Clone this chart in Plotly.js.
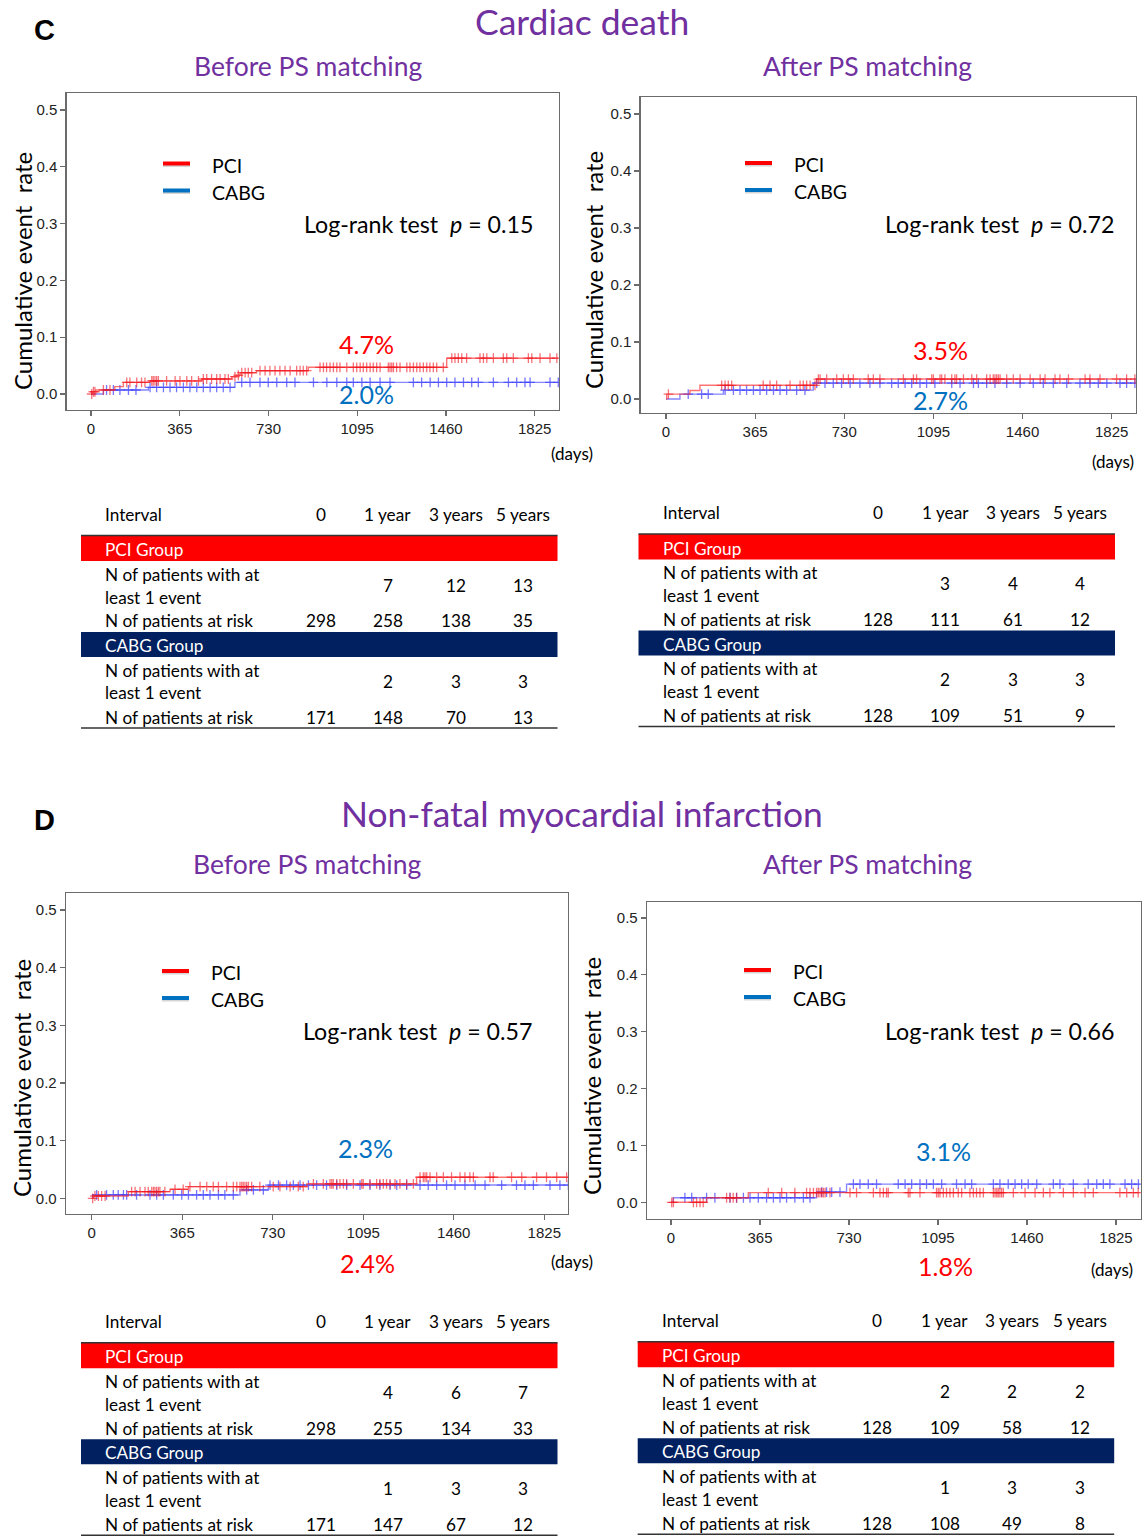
<!DOCTYPE html>
<html><head><meta charset="utf-8">
<script src="https://cdn.plot.ly/plotly-3.0.1.min.js"></script>
<style>html,body{margin:0;padding:0;background:#fff}#chart{width:1142px;height:1537px}</style>
</head><body><div id="chart"></div>
<script>
// ================= DATA =================
const xTickVals = [0, 365, 730, 1095, 1460, 1825];
const xTickText = ['0', '365', '730', '1095', '1460', '1825'];
const yTickVals = [0, 0.1, 0.2, 0.3, 0.4, 0.5];
const yTickText = ['0.0', '0.1', '0.2', '0.3', '0.4', '0.5'];
const groups = ['PCI', 'CABG'];
const tableCols = ['0', '1 year', '3 years', '5 years'];
const rowEvents = ['N of patients with at', 'least 1 event'];
const rowRisk = 'N of patients at risk';
const sectionTitles = ['Cardiac death', 'Non-fatal myocardial infarction'];
const sectionLetters = ['C', 'D'];
const subTitles = ['Before PS matching', 'After PS matching'];
const yTitle = 'Cumulative event\u00a0\u00a0rate';

// --- C, before PS matching ---
const cBeforePciEventDays = [5, 20, 98, 133, 243, 455, 579, 599, 613, 681, 894, 1463];
const cBeforePciRates = [0.004, 0.007, 0.013, 0.0205, 0.023, 0.0264, 0.0305, 0.033, 0.0375, 0.041, 0.047, 0.063];
const cBeforePciCensor = [3,10,16,51,78,147,160,188,208,222,250,256,263,270,277,311,346,366,394,414,442,462,476,496,517,531,551,565,592,606,620,634,647,661,695,716,736,757,777,798,819,846,860,873,887,942,956,969,983,997,1011,1024,1052,1079,1093,1107,1120,1134,1148,1161,1175,1189,1223,1230,1237,1244,1257,1271,1299,1312,1326,1340,1353,1367,1381,1394,1408,1422,1449,1484,1497,1511,1525,1545,1600,1614,1628,1655,1696,1710,1737,1799,1813,1847,1888,1916];
const cBeforeCabgEventDays = [51, 236, 592];
const cBeforeCabgRates = [0.007, 0.0117, 0.0205];
const cBeforeCabgCensor = [64,92,119,154,185,243,270,298,325,352,380,407,435,462,490,517,544,572,620,654,695,729,764,805,839,915,970,1011,1052,1079,1114,1148,1189,1230,1326,1360,1395,1429,1463,1497,1532,1566,1593,1655,1717,1751,1785,1806,1888,1922];

// --- C, after PS matching ---
const cAfterPciEventDays = [3, 98, 139, 617];
const cAfterPciRates = [0.0085, 0.015, 0.024, 0.035];
const cAfterPciCensor = [10,228,242,255,269,398,426,453,508,549,562,576,590,610,624,631,658,699,726,747,767,828,849,876,972,1013,1026,1088,1095,1122,1129,1142,1170,1183,1190,1218,1252,1272,1313,1327,1340,1347,1354,1361,1368,1395,1422,1450,1491,1532,1552,1593,1613,1648,1716,1736,1777,1845,1886,1920];
const cAfterCabgEventDays = [57, 235, 603];
const cAfterCabgRates = [0.0085, 0.0155, 0.028];
const cAfterCabgCensor = [91,146,173,242,276,303,330,358,385,412,440,467,494,535,569,617,651,685,719,754,794,835,876,924,951,979,1006,1040,1067,1101,1170,1204,1259,1279,1313,1347,1395,1450,1504,1545,1586,1641,1695,1736,1770,1805,1859,1886,1920];

// --- D, before PS matching ---
const dBeforePciEventDays = [6, 148, 316, 390, 867, 1310];
const dBeforePciRates = [0.004, 0.0116, 0.0156, 0.0203, 0.025, 0.0365];
const dBeforePciCensor = [4,13,27,40,54,161,175,195,215,228,242,249,255,262,269,275,295,336,369,396,437,464,490,511,544,571,585,598,605,611,618,625,632,645,678,732,759,800,833,853,894,934,961,968,974,988,1001,1015,1028,1055,1089,1095,1122,1149,1162,1176,1189,1203,1223,1243,1270,1297,1324,1337,1344,1351,1364,1391,1418,1451,1485,1505,1525,1539,1606,1619,1693,1734,1794,1834,1875,1915];
const dBeforeCabgEventDays = [5, 598, 712];
const dBeforeCabgRates = [0.0058, 0.0145, 0.023];
const dBeforeCabgCensor = [20,60,87,107,128,141,181,235,262,289,329,363,390,423,450,477,511,537,571,625,652,692,719,753,786,813,840,874,907,947,988,1028,1082,1122,1162,1203,1230,1270,1324,1357,1391,1431,1465,1505,1546,1586,1653,1713,1747,1781,1848,1888,1922];

// --- D, after PS matching ---
const dAfterPciEventDays = [146, 317];
const dAfterPciRates = [0.008, 0.017];
const dAfterPciCensor = [3,10,92,105,119,132,228,242,255,269,399,454,508,556,570,584,597,604,611,618,625,632,652,734,761,830,857,871,884,891,973,980,1021,1089,1096,1103,1117,1130,1144,1158,1178,1192,1226,1240,1253,1267,1281,1322,1329,1336,1342,1349,1356,1363,1404,1452,1493,1527,1554,1609,1650,1698,1732,1841,1869,1896,1916];
const dAfterCabgEventDays = [9, 597, 720];
const dAfterCabgRates = [0.008, 0.018, 0.032];
const dAfterCabgCensor = [57,85,146,180,242,269,297,324,358,392,420,447,474,508,543,570,618,638,659,693,748,775,809,843,932,960,987,1021,1048,1076,1110,1171,1206,1233,1322,1349,1383,1411,1438,1465,1500,1568,1595,1650,1711,1746,1773,1800,1862,1889,1917];

const lastFollowUpDay = 1922;

// log-rank p values and 5-year percentages
const pValues = ['0.15', '0.72', '0.57', '0.66'];
const pciPct = ['4.7%', '3.5%', '2.4%', '1.8%'];
const cabgPct = ['2.0%', '2.7%', '2.3%', '3.1%'];

// risk tables
const cBeforePciEvents = ['', 7, 12, 13];
const cBeforePciRisk = [298, 258, 138, 35];
const cBeforeCabgEvents = ['', 2, 3, 3];
const cBeforeCabgRisk = [171, 148, 70, 13];
const cAfterPciEvents = ['', 3, 4, 4];
const cAfterPciRisk = [128, 111, 61, 12];
const cAfterCabgEvents = ['', 2, 3, 3];
const cAfterCabgRisk = [128, 109, 51, 9];
const dBeforePciEvents = ['', 4, 6, 7];
const dBeforePciRisk = [298, 255, 134, 33];
const dBeforeCabgEvents = ['', 1, 3, 3];
const dBeforeCabgRisk = [171, 147, 67, 12];
const dAfterPciEvents = ['', 2, 2, 2];
const dAfterPciRisk = [128, 109, 58, 12];
const dAfterCabgEvents = ['', 1, 3, 3];
const dAfterCabgRisk = [128, 108, 49, 8];

// ================= LAYOUT / DRAWING =================
const W = 1142, H = 1537;
const px = x => x / W, py = y => 1 - y / H;
const PURPLE = '#7030A0', RED = '#FF0000', BLUE = '#0070C0', NAVY = '#002060';
const TXT = 'Lato, "Open Sans", sans-serif';
const ARIAL = '"Liberation Sans", Arial, sans-serif';
const TAB_FS = 17.2;

const panels = [
  {box: {l: 66.7, t: 93, r: 559, b: 410}, x0: 91, x1: 534.7, y0: 394, y5: 110,
   pci: [cBeforePciEventDays, cBeforePciRates, cBeforePciCensor], cabg: [cBeforeCabgEventDays, cBeforeCabgRates, cBeforeCabgCensor],
   leg: {x: 163, y: 163.5}, lr: {x: 535, y: 224}, pPct: {x: 366, y: 344}, cPct: {x: 366, y: 394},
   days: {x: 572, y: 454}, yt: {x: 22, y: 271}, sub: {x: 308, y: 66},
   table: {L: 81, T: 535.5}, tab: [cBeforePciEvents, cBeforePciRisk, cBeforeCabgEvents, cBeforeCabgRisk]},
  {box: {l: 640.7, t: 97, r: 1136, b: 413}, x0: 666, x1: 1111.7, y0: 399, y5: 114,
   pci: [cAfterPciEventDays, cAfterPciRates, cAfterPciCensor], cabg: [cAfterCabgEventDays, cAfterCabgRates, cAfterCabgCensor],
   leg: {x: 745, y: 163}, lr: {x: 1116, y: 224}, pPct: {x: 940, y: 350}, cPct: {x: 940, y: 400},
   days: {x: 1113, y: 462}, yt: {x: 593, y: 270}, sub: {x: 867, y: 66},
   table: {L: 638.5, T: 534}, tab: [cAfterPciEvents, cAfterPciRisk, cAfterCabgEvents, cAfterCabgRisk]},
  {box: {l: 66, t: 893, r: 568, b: 1214}, x0: 91.7, x1: 544.3, y0: 1198.3, y5: 910,
   pci: [dBeforePciEventDays, dBeforePciRates, dBeforePciCensor], cabg: [dBeforeCabgEventDays, dBeforeCabgRates, dBeforeCabgCensor],
   leg: {x: 162, y: 971}, lr: {x: 534, y: 1031}, pPct: {x: 367, y: 1263}, cPct: {x: 365, y: 1148},
   days: {x: 571.5, y: 1261}, yt: {x: 21, y: 1078}, sub: {x: 307, y: 864},
   table: {L: 81, T: 1342.7}, tab: [dBeforePciEvents, dBeforePciRisk, dBeforeCabgEvents, dBeforeCabgRisk]},
  {box: {l: 647, t: 902, r: 1141, b: 1218.7}, x0: 671, x1: 1116, y0: 1202.3, y5: 918,
   pci: [dAfterPciEventDays, dAfterPciRates, dAfterPciCensor], cabg: [dAfterCabgEventDays, dAfterCabgRates, dAfterCabgCensor],
   leg: {x: 744, y: 970}, lr: {x: 1116, y: 1031}, pPct: {x: 945, y: 1266}, cPct: {x: 943, y: 1151},
   days: {x: 1112, y: 1269}, yt: {x: 591, y: 1076}, sub: {x: 867, y: 864},
   table: {L: 637.7, T: 1341.7}, tab: [dAfterPciEvents, dAfterPciRisk, dAfterCabgEvents, dAfterCabgRisk]}
];

const traces = [], shapes = [], annotations = [];
const layout = {
  width: W, height: H, margin: {l: 0, r: 0, t: 0, b: 0},
  paper_bgcolor: '#fff', plot_bgcolor: '#fff', showlegend: false,
  shapes, annotations
};

function ann(x, y, text, o = {}) {
  annotations.push(Object.assign({
    xref: 'paper', yref: 'paper', x: px(x), y: py(y), text, showarrow: false,
    xanchor: 'center', yanchor: 'middle',
    font: {family: TXT, size: TAB_FS, color: '#000'}
  }, o));
}
function line(x0, y0, x1, y1, color, width, opacity) {
  shapes.push({type: 'line', xref: 'paper', yref: 'paper', x0: px(x0), y0: py(y0), x1: px(x1), y1: py(y1),
    line: {color, width}, opacity: opacity == null ? 1 : opacity});
}
function rect(x0, y0, x1, y1, color) {
  shapes.push({type: 'rect', xref: 'paper', yref: 'paper', x0: px(x0), y0: py(y0), x1: px(x1), y1: py(y1),
    fillcolor: color, line: {width: 0}, layer: 'below'});
}
function stepAt(days, rates, t) {
  let v = 0;
  for (let i = 0; i < days.length; i++) if (days[i] <= t) v = rates[i];
  return v;
}

panels.forEach((p, i) => {
  const n = i === 0 ? '' : String(i + 1);
  const kx = (p.x1 - p.x0) / 1825, ky = (p.y0 - p.y5) / 0.5;
  const axisCommon = {
    showline: true, mirror: true, linecolor: '#6b6b6b', linewidth: 1.3,
    showgrid: false, zeroline: false, ticks: 'outside', ticklen: 5, tickcolor: '#6b6b6b', tickwidth: 1.2,
    tickfont: {family: ARIAL, size: 15, color: '#222'}, fixedrange: true
  };
  layout['xaxis' + n] = Object.assign({}, axisCommon, {
    domain: [px(p.box.l), px(p.box.r)], anchor: 'y' + n,
    range: [(p.box.l - p.x0) / kx, (p.box.r - p.x0) / kx],
    tickvals: xTickVals, ticktext: xTickText, ticklabelstandoff: 0
  });
  layout['yaxis' + n] = Object.assign({}, axisCommon, {
    domain: [py(p.box.b), py(p.box.t)], anchor: 'x' + n,
    range: [-(p.box.b - p.y0) / ky, (p.y0 - p.box.t) / ky],
    tickvals: yTickVals, ticktext: yTickText, ticklabelstandoff: 0
  });

  [['cabg', 'rgba(70,70,255,0.65)', 'rgba(60,60,255,0.7)'], ['pci', 'rgba(255,40,40,0.65)', 'rgba(240,20,30,0.6)']].forEach(([g, lc, mc]) => {
    const [days, rates, cens] = p[g];
    const xs = [0].concat(days, [lastFollowUpDay]);
    const ys = [0].concat(rates, [rates[rates.length - 1]]);
    traces.push({type: 'scatter', mode: 'lines', x: xs, y: ys, xaxis: 'x' + n, yaxis: 'y' + n,
      line: {shape: 'hv', color: lc, width: 1.4}, hoverinfo: 'skip', name: g.toUpperCase()});
    traces.push({type: 'scatter', mode: 'markers', x: cens, y: cens.map(t => stepAt(days, rates, t)),
      xaxis: 'x' + n, yaxis: 'y' + n,
      marker: {symbol: 'cross-thin', size: 7, line: {color: mc, width: 1.3}, color: mc},
      hoverinfo: 'skip', name: g.toUpperCase() + ' censored'});
  });

  // legend
  [[RED, groups[0]], [BLUE, groups[1]]].forEach(([c, label], j) => {
    const y = p.leg.y + j * 27;
    line(p.leg.x, y + 2.5, p.leg.x + 27, y + 2.5, '#888', 2, 0.35);
    line(p.leg.x, y, p.leg.x + 27, y, c, 4);
    ann(p.leg.x + 46.5, y + 1.5, label, {xanchor: 'left', font: {family: TXT, size: 19.5, color: '#000'}});
  });
  ann(p.lr.x, p.lr.y, 'Log-rank test\u00a0\u00a0<i>p</i> = ' + pValues[i], {xanchor: 'right', font: {family: TXT, size: 23.2, color: '#000'}});
  ann(p.pPct.x, p.pPct.y, pciPct[i], {font: {family: TXT, size: 25, color: RED}});
  ann(p.cPct.x, p.cPct.y, cabgPct[i], {font: {family: TXT, size: 25, color: BLUE}});
  ann(p.days.x, p.days.y, '(days)', {font: {family: TXT, size: 17, color: '#000'}});
  ann(p.yt.x, p.yt.y, yTitle, {textangle: -90, font: {family: TXT, size: 24, color: '#000'}});
  ann(p.sub.x, p.sub.y, subTitles[i % 2], {font: {family: TXT, size: 26.5, color: PURPLE}});

  // table
  const L = p.table.L, T = p.table.T, R = L + 476.5;
  const colX = [239.5, 306.8, 374.5, 441.8].map(d => L + d);
  const lab = L + 22;
  const [pe, pr, ce, cr] = p.tab;
  ann(lab, T - 21.5, 'Interval', {xanchor: 'left'});
  tableCols.forEach((c, k) => ann(colX[k], T - 21.5, c));
  rect(L, T, R, T + 25.5, RED);
  line(L, T, R, T, '#333', 1.6);
  ann(lab, T + 14, groups[0] + ' Group', {xanchor: 'left', font: {family: TXT, size: TAB_FS, color: '#fff'}});
  [[pe, pr, T + 25.5], [ce, cr, T + 121.5]].forEach(([ev, rk, base]) => {
    ann(lab, base + 13, rowEvents[0], {xanchor: 'left'});
    ann(lab, base + 36, rowEvents[1], {xanchor: 'left'});
    ann(lab, base + 60, rowRisk, {xanchor: 'left'});
    ev.forEach((v, k) => { if (v !== '') ann(colX[k], base + 24, String(v)); });
    rk.forEach((v, k) => ann(colX[k], base + 60, String(v)));
  });
  rect(L, T + 96.5, R, T + 121.5, NAVY);
  ann(lab, T + 110, groups[1] + ' Group', {xanchor: 'left', font: {family: TXT, size: TAB_FS, color: '#fff'}});
  line(L, T + 192.5, R, T + 192.5, '#333', 1.6);
});

// section headings
ann(45, 30, sectionLetters[0], {font: {family: ARIAL, size: 29, color: '#000', weight: 'bold'}});
ann(45, 820, sectionLetters[1], {font: {family: ARIAL, size: 29, color: '#000', weight: 'bold'}});
ann(582, 22, sectionTitles[0], {font: {family: TXT, size: 35.5, color: PURPLE}});
ann(582, 813, sectionTitles[1], {font: {family: TXT, size: 35.4, color: PURPLE}});

Plotly.newPlot('chart', traces, layout, {staticPlot: true, displayModeBar: false});
</script></body></html>
